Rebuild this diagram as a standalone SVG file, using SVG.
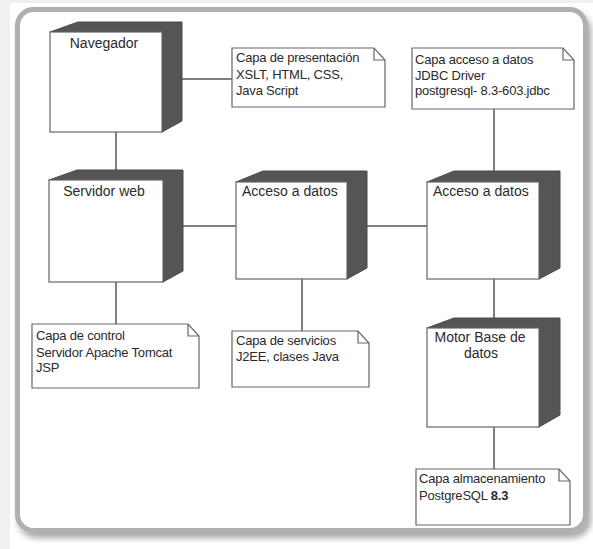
<svg xmlns="http://www.w3.org/2000/svg" width="593" height="549" viewBox="0 0 593 549">
<defs>
<filter id="sh" x="-5%" y="-5%" width="115%" height="115%">
<feDropShadow dx="3" dy="5" stdDeviation="3" flood-color="#000" flood-opacity="0.35"/>
</filter>
</defs>
<style>
.face{fill:#555;stroke:#4a4a4a;stroke-width:1}
.front{fill:#fff;stroke:#666;stroke-width:1.2}
.note{fill:#fff;stroke:#666;stroke-width:1.2}
.fold{fill:none;stroke:#666;stroke-width:1.2}
.lbl{font-family:"Liberation Sans",Arial,sans-serif;font-size:14px;fill:#2a2a2a}
.nt{font-family:"Liberation Sans",Arial,sans-serif;font-size:13px;fill:#2a2a2a;letter-spacing:-0.2px}
.conn line{stroke:#555;stroke-width:1.5}
</style>
<rect x="0" y="0" width="593" height="549" fill="#f0f0f0"/>
<rect x="10" y="3" width="583" height="546" fill="#fff"/>
<rect x="17.5" y="9.5" width="568" height="521" rx="16" fill="#fff" stroke="#b0b0b0" stroke-width="5" filter="url(#sh)"/>

<g id="connectors" class="conn">
<line x1="172" y1="79" x2="232" y2="79"/>
<line x1="116" y1="132" x2="116" y2="174"/>
<line x1="173" y1="226" x2="236" y2="226"/>
<line x1="358" y1="226" x2="427" y2="226"/>
<line x1="302" y1="279" x2="302" y2="331"/>
<line x1="116" y1="282" x2="116" y2="324"/>
<line x1="494" y1="109" x2="494" y2="176"/>
<line x1="494" y1="279" x2="494" y2="323"/>
<line x1="494" y1="427" x2="494" y2="469"/>
</g>

<g id="navegador">
<polygon class="face" points="50,32 78,22 182,22 182,121 162,132 162,32"/>
<rect class="front" x="50" y="32" width="112" height="100"/>
<text class="lbl" x="104" y="48" text-anchor="middle">Navegador</text>
</g>

<g id="servidor-web">
<polygon class="face" points="49,180 77,170 183,170 183,271 163,282 163,180"/>
<rect class="front" x="49" y="180" width="114" height="102"/>
<text class="lbl" x="104" y="196" text-anchor="middle">Servidor web</text>
</g>

<g id="acceso-datos-1">
<polygon class="face" points="236,182 263,171 367,171 367,268 347,279 347,182"/>
<rect class="front" x="236" y="182" width="111" height="97"/>
<text class="lbl" x="242" y="196">Acceso a datos</text>
</g>

<g id="acceso-datos-2">
<polygon class="face" points="427,182 454,171 560,171 560,268 539,279 539,182"/>
<rect class="front" x="427" y="182" width="112" height="97"/>
<text class="lbl" x="433" y="196">Acceso a datos</text>
</g>

<g id="motor-bd">
<polygon class="face" points="427,328 454,318 560,318 560,415 539,427 539,328"/>
<rect class="front" x="427" y="328" width="112" height="99"/>
<text class="lbl" x="480" y="342" text-anchor="middle">Motor Base de</text>
<text class="lbl" x="481" y="358" text-anchor="middle">datos</text>
</g>

<g id="nota-presentacion">
<path class="note" d="M232,48 H374 L385,60 V107 H232 Z"/>
<path class="fold" d="M374,48 V60 H385"/>
<text class="nt" x="236" y="62">Capa de presentación</text>
<text class="nt" x="236" y="79">XSLT, HTML, CSS,</text>
<text class="nt" x="236" y="95">Java Script</text>
</g>

<g id="nota-acceso">
<path class="note" d="M412,48 H563 L574,60 V109 H412 Z"/>
<path class="fold" d="M563,48 V60 H574"/>
<text class="nt" x="415" y="64">Capa acceso a datos</text>
<text class="nt" x="415" y="80">JDBC Driver</text>
<text class="nt" x="415" y="95">postgresql- 8.3-603.jdbc</text>
</g>

<g id="nota-control">
<path class="note" d="M32,324 H188 L199,336 V388 H32 Z"/>
<path class="fold" d="M188,324 V336 H199"/>
<text class="nt" x="36" y="340">Capa de control</text>
<text class="nt" x="36" y="357">Servidor Apache Tomcat</text>
<text class="nt" x="36" y="372">JSP</text>
</g>

<g id="nota-servicios">
<path class="note" d="M232,331 H358 L369,343 V387 H232 Z"/>
<path class="fold" d="M358,331 V343 H369"/>
<text class="nt" x="236" y="345">Capa de servicios</text>
<text class="nt" x="236" y="361">J2EE, clases Java</text>
</g>

<g id="nota-almacenamiento">
<path class="note" d="M416,469 H559 L570,481 V525 H416 Z"/>
<path class="fold" d="M559,469 V481 H570"/>
<text class="nt" x="419" y="483">Capa almacenamiento</text>
<text class="nt" x="419" y="500">PostgreSQL <tspan font-weight="bold">8.3</tspan></text>
</g>
</svg>
